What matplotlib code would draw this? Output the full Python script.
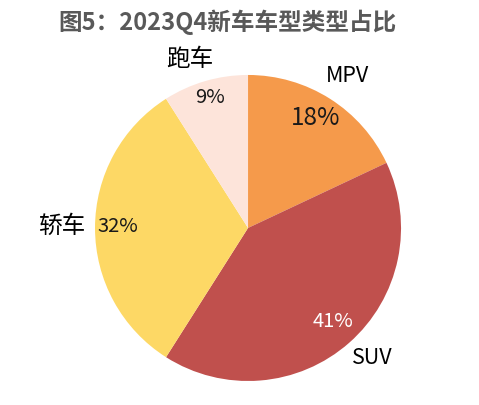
import matplotlib
matplotlib.use("Agg")
import matplotlib.pyplot as plt

plt.rcParams['font.family'] = ['Noto Sans CJK SC', 'DejaVu Sans']

categories = ["MPV", "SUV", "轿车", "跑车"]
values = [18, 41, 32, 9]
pct_labels = ["18%", "41%", "32%", "9%"]
colors = ["#F59A4B", "#C0504D", "#FDD865", "#FDE4DA"]

fig = plt.figure(figsize=(4.79, 4.05), dpi=100)
ax = fig.add_axes([0.1983, 0.0593, 0.639, 0.7556])
ax.pie(values, colors=colors, startangle=90, counterclock=False,
       wedgeprops=dict(linewidth=0))
ax.set_xlim(-1, 1)
ax.set_ylim(-1, 1)
ax.set_aspect('equal')

# category labels
cat_pos = {"MPV": (0.647, 0.99), "SUV": (0.81, -0.85), "轿车": (-1.216, 0.01), "跑车": (-0.38, 1.1)}
cat_size = {"MPV": 15.5, "SUV": 15.5, "轿车": 17, "跑车": 17}
pct_pos = {"MPV": (0.444, 0.72), "SUV": (0.556, -0.614), "轿车": (-0.85, 0.01), "跑车": (-0.248, 0.85)}
pct_size = {"MPV": 17.5, "SUV": 14.5, "轿车": 14.5, "跑车": 14.5}
pct_color = {"MPV": "#1a1a1a", "SUV": "white", "轿车": "#1a1a1a", "跑车": "#1a1a1a"}

for c, p in zip(categories, pct_labels):
    x, y = cat_pos[c]
    ax.text(x, y, c, ha='center', va='center', fontsize=cat_size[c], color='black', clip_on=False)
    x, y = pct_pos[c]
    ax.text(x, y, p, ha='center', va='center', fontsize=pct_size[c], color=pct_color[c], clip_on=False)

fig.text(0.474, 0.945, "图5：2023Q4新车车型类型占比", ha='center', va='center',
         fontsize=17, fontweight='bold', color='#595959')

fig.savefig("out.png", dpi=100)
